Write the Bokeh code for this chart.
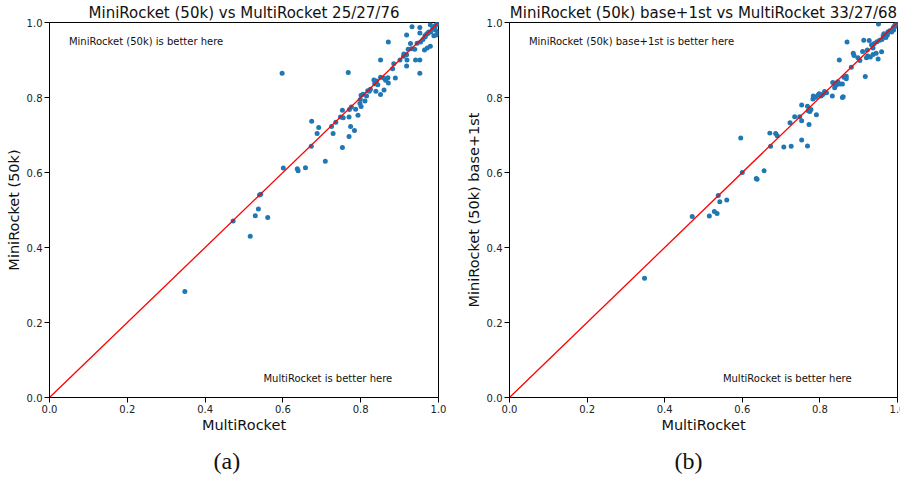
from bokeh.plotting import figure
from bokeh.layouts import row
from bokeh.models import Label, FixedTicker, PrintfTickFormatter, Title
from bokeh.embed import file_html
from bokeh.resources import INLINE

# ---- data ----
multi_a = [0.348, 0.472, 0.516, 0.529, 0.537, 0.540, 0.543, 0.561, 0.601, 0.637, 0.639, 0.658,
           0.598, 0.673, 0.674, 0.688, 0.692, 0.709, 0.725, 0.729, 0.736, 0.748, 0.753, 0.755,
           0.753, 0.770, 0.770, 0.771, 0.774, 0.776, 0.784, 0.787, 0.793, 0.768, 0.798, 0.799,
           0.801, 0.801, 0.806, 0.811, 0.815, 0.818, 0.822, 0.825, 0.834, 0.836, 0.839, 0.841,
           0.844, 0.851, 0.851, 0.859, 0.860, 0.864, 0.870, 0.871, 0.851, 0.871, 0.882, 0.885,
           0.889, 0.901, 0.911, 0.918, 0.918, 0.918, 0.919, 0.922, 0.928, 0.932, 0.939, 0.941,
           0.952, 0.952, 0.952, 0.952, 0.954, 0.960, 0.964, 0.966, 0.971, 0.972, 0.979, 0.979,
           0.980, 0.985, 0.988, 0.990, 0.992, 0.995, 0.996, 0.998, 1.000, 1.000, 0.998, 0.993,
           0.975, 0.945, 0.930, 0.910, 0.965, 0.970]
mini_a = [0.283, 0.471, 0.430, 0.485, 0.503, 0.540, 0.542, 0.480, 0.612, 0.610, 0.605, 0.613,
          0.865, 0.670, 0.737, 0.704, 0.720, 0.630, 0.723, 0.704, 0.734, 0.748, 0.766, 0.746,
          0.667, 0.748, 0.696, 0.768, 0.723, 0.775, 0.712, 0.769, 0.753, 0.867, 0.784, 0.795,
          0.806, 0.776, 0.809, 0.791, 0.804, 0.818, 0.817, 0.822, 0.847, 0.837, 0.817, 0.844,
          0.834, 0.854, 0.808, 0.852, 0.820, 0.846, 0.853, 0.839, 0.900, 0.948, 0.877, 0.890,
          0.852, 0.900, 0.916, 0.914, 0.884, 0.967, 0.900, 0.929, 0.944, 0.989, 0.929, 0.900,
          0.900, 0.865, 0.972, 0.987, 0.948, 0.955, 0.927, 0.962, 0.932, 0.970, 0.937, 0.994,
          0.975, 0.985, 0.965, 0.990, 0.980, 0.967, 0.995, 0.975, 1.000, 0.995, 0.998, 0.993,
          0.975, 0.945, 0.930, 0.910, 0.965, 0.970]

multi_b = [0.348, 0.471, 0.515, 0.528, 0.535, 0.538, 0.542, 0.560, 0.600, 0.636, 0.638, 0.596,
           0.656, 0.671, 0.686, 0.690, 0.673, 0.707, 0.726, 0.753, 0.768, 0.723, 0.735, 0.748,
           0.753, 0.753, 0.772, 0.768, 0.770, 0.774, 0.777, 0.791, 0.783, 0.782, 0.789, 0.795,
           0.798, 0.803, 0.806, 0.817, 0.812, 0.832, 0.833, 0.838, 0.846, 0.840, 0.843, 0.852,
           0.858, 0.858, 0.862, 0.868, 0.868, 0.838, 0.860, 0.808, 0.850, 0.870, 0.881, 0.886,
           0.888, 0.898, 0.903, 0.910, 0.913, 0.917, 0.920, 0.922, 0.923, 0.927, 0.930, 0.933,
           0.937, 0.937, 0.940, 0.945, 0.947, 0.950, 0.951, 0.954, 0.959, 0.963, 0.974, 0.980,
           0.989, 0.995, 0.970, 0.985, 0.990, 1.000, 0.998, 0.960, 0.975, 0.993, 0.965]
mini_b = [0.318, 0.483, 0.484, 0.496, 0.491, 0.539, 0.522, 0.527, 0.600, 0.584, 0.582, 0.692,
          0.605, 0.705, 0.704, 0.698, 0.670, 0.668, 0.670, 0.687, 0.671, 0.733, 0.749, 0.749,
          0.738, 0.780, 0.728, 0.777, 0.765, 0.763, 0.768, 0.754, 0.804, 0.796, 0.801, 0.806,
          0.810, 0.804, 0.808, 0.813, 0.816, 0.804, 0.840, 0.838, 0.842, 0.832, 0.834, 0.836,
          0.836, 0.800, 0.854, 0.857, 0.850, 0.826, 0.802, 0.809, 0.900, 0.948, 0.881, 0.918,
          0.912, 0.906, 0.899, 0.923, 0.953, 0.856, 0.906, 0.927, 0.911, 0.952, 0.908, 0.941,
          0.932, 0.915, 0.944, 0.918, 0.949, 0.903, 0.996, 0.953, 0.922, 0.965, 0.967, 0.978,
          0.987, 0.994, 0.960, 0.975, 0.980, 1.000, 0.990, 0.955, 0.975, 0.993, 0.970]

diag = [0.0, 1.0]
tick_values = [0.0, 0.2, 0.4, 0.6, 0.8, 1.0]

title_a = "MiniRocket (50k) vs MultiRocket 25/27/76"
title_b = "MiniRocket (50k) base+1st vs MultiRocket 33/27/68"
ylab_a = "MiniRocket (50k)"
ylab_b = "MiniRocket (50k) base+1st"
xlab = "MultiRocket"
note_top_a = "MiniRocket (50k) is better here"
note_top_b = "MiniRocket (50k) base+1st is better here"
note_bottom = "MultiRocket is better here"

FONT = "DejaVu Sans"
H = 484


def make(xs, ys, title, ylabel, note_top, caption, width, bl, br, cap_off):
    p = figure(width=width, height=H, x_range=(0, 1), y_range=(0, 1),
               output_backend="svg", toolbar_location=None,
               min_border_left=bl, min_border_right=br,
               min_border_top=20, min_border_bottom=H - 20 - 378)
    p.grid.visible = False
    p.background_fill_color = "white"
    p.border_fill_color = "white"
    p.outline_line_color = "black"
    p.outline_line_width = 1
    for ax in (p.xaxis[0], p.yaxis[0]):
        ax.ticker = FixedTicker(ticks=tick_values)
        ax.formatter = PrintfTickFormatter(format="%.1f")
        ax.major_tick_out = 5
        ax.major_tick_in = 0
        ax.minor_tick_out = 0
        ax.minor_tick_in = 0
        ax.major_label_standoff = 2
        ax.major_label_text_font = FONT
        ax.major_label_text_font_size = "10px"
        ax.major_label_text_color = "#222222"
        ax.axis_line_color = "black"
        ax.major_tick_line_color = "black"
        ax.axis_label_text_font = FONT
        ax.axis_label_text_font_size = "14.5px"
        ax.axis_label_text_font_style = "normal"
        ax.axis_label_text_color = "#111111"
        ax.axis_label_standoff = 1
    p.yaxis.axis_label_standoff = 2
    p.xaxis.axis_label = xlab
    p.yaxis.axis_label = ylabel

    p.title.text = title
    p.title.align = "center"
    p.title.text_font = FONT
    p.title.text_font_size = "15px"
    p.title.text_font_style = "normal"
    p.title.text_color = "#111111"
    p.title.standoff = 2

    p.scatter(xs, ys, size=5, fill_color="#1f77b4", line_color=None)
    p.line(diag, diag, line_color="red", line_width=1.3)

    p.add_layout(Label(x=0.05, y=0.95, text=note_top, text_align="left",
                       text_baseline="alphabetic", text_font=FONT,
                       text_font_size="10px", text_color="#111111"))
    p.add_layout(Label(x=0.55, y=0.05, text=note_bottom, text_align="left",
                       text_baseline="alphabetic", text_font=FONT,
                       text_font_size="10px", text_color="#111111"))
    cap = Title(text=caption, align="left", offset=cap_off,
                text_font="Liberation Serif", text_font_size="24px",
                text_font_style="normal", text_color="#111111", standoff=21)
    p.add_layout(cap, "below")
    return p


p1 = make(multi_a, mini_a, title_a, ylab_a, note_top_a, "(a)", 450, 49, 12, 164)
p2 = make(multi_b, mini_b, title_b, ylab_b, note_top_b, "(b)", 456, 59, 9, 165)

layout = row(p1, p2, width=900, styles={"overflow": "hidden"})

open("out.html", "w").write(file_html(layout, INLINE))
